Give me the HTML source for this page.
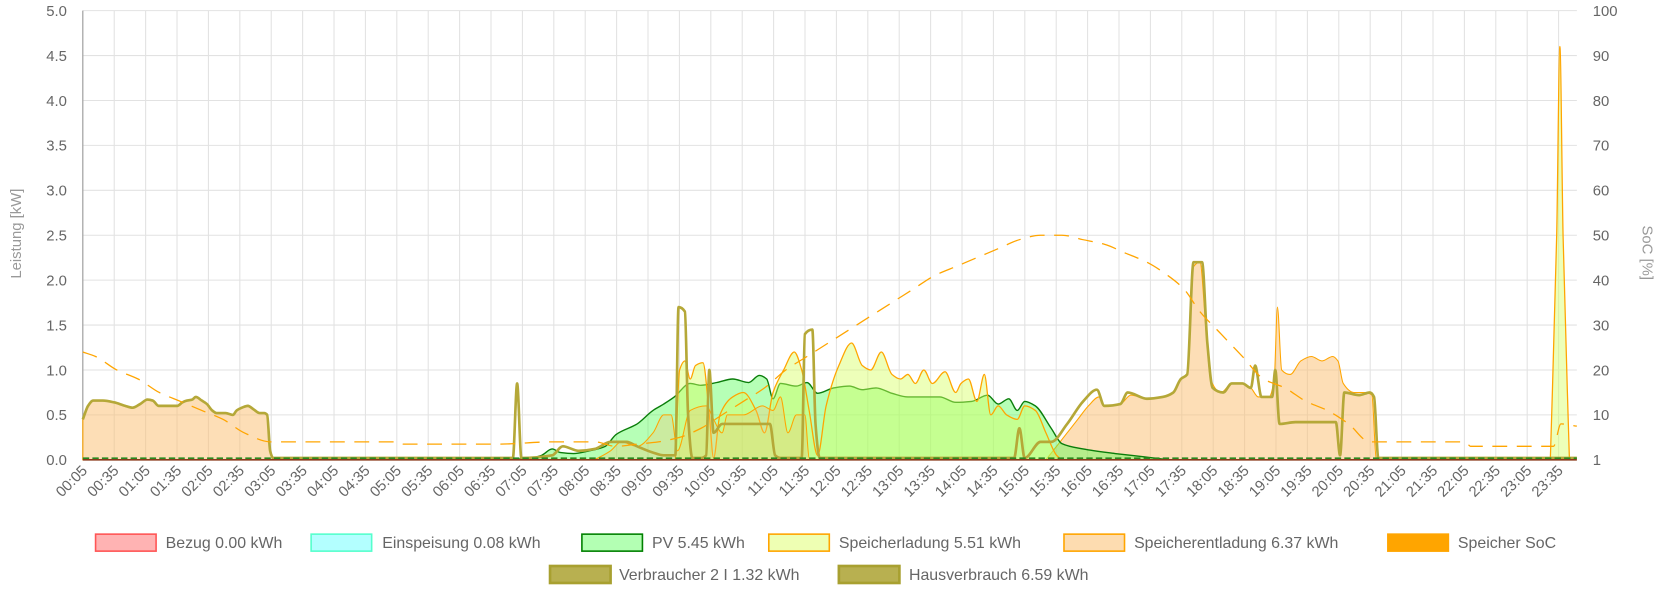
<!DOCTYPE html>
<html><head><meta charset="utf-8"><style>
html,body{margin:0;padding:0;background:#fff;width:1665px;height:600px;overflow:hidden}
svg{display:block;font-family:"Liberation Sans",sans-serif}
</style></head><body>
<svg id="c" width="1665" height="600" viewBox="0 0 1568 565" xmlns="http://www.w3.org/2000/svg">
<g id="grid"></g>
<g id="series"></g>
<g id="labels" fill="#666" font-size="14"></g>
<text transform="translate(20,220) rotate(-90)" text-anchor="middle" fill="#999" font-size="14">Leistung [kW]</text>
<text transform="translate(1547,238) rotate(90)" text-anchor="middle" fill="#999" font-size="14">SoC [%]</text>
<g font-size="15" fill="#666">
<rect x="90" y="503" width="57" height="16" fill="#ffb3b3" stroke="#ff5555" stroke-width="1.5"/><text x="156" y="516">Bezug 0.00 kWh</text>
<rect x="293" y="503" width="57" height="16" fill="#b3ffff" stroke="#55ffcc" stroke-width="1.5"/><text x="360" y="516">Einspeisung 0.08 kWh</text>
<rect x="548" y="503" width="57" height="16" fill="#b3ffb3" stroke="#008000" stroke-width="1.5"/><text x="614" y="516">PV 5.45 kWh</text>
<rect x="724" y="503" width="57" height="16" fill="#eeffb3" stroke="#ffa500" stroke-width="1.5"/><text x="790" y="516">Speicherladung 5.51 kWh</text>
<rect x="1002" y="503" width="57" height="16" fill="#fddcb0" stroke="#ffa500" stroke-width="1.5"/><text x="1068" y="516">Speicherentladung 6.37 kWh</text>
<rect x="1307" y="503" width="57" height="16" fill="#ffa500" stroke="#ffa500" stroke-width="1.5"/><text x="1373" y="516">Speicher SoC</text>
<rect x="518" y="533" width="57" height="16" fill="#b8b050" stroke="#a8a030" stroke-width="2.5"/><text x="583" y="546">Verbraucher 2 I 1.32 kWh</text>
<rect x="790" y="533" width="57" height="16" fill="#b8b050" stroke="#a8a030" stroke-width="2.5"/><text x="856" y="546">Hausverbrauch 6.59 kWh</text>
</g>
</svg>
<script>
var L=78,R=1485,T=10,B=433,NS="http://www.w3.org/2000/svg";
function el(p,t,a,txt){var e=document.createElementNS(NS,t);for(var k in a)e.setAttribute(k,a[k]);if(txt!==undefined)e.textContent=txt;document.getElementById(p).appendChild(e);return e;}
for(var i=0;i<=10;i++){var yy=B-i*42.3;el("grid","line",{x1:L,x2:R,y1:yy,y2:yy,stroke:"#e2e2e2"});
el("labels","text",{x:63,y:yy+5,"text-anchor":"end"},(i*0.5).toFixed(1));
el("labels","text",{x:1500,y:yy+5},i==0?"1":String(i*10));}
for(var j=0;j<48;j++){var x=L+j*29.57;el("grid","line",{x1:x,x2:x,y1:T,y2:B,stroke:"#e2e2e2"});
var m=5+j*30,h=Math.floor(m/60),mm=m%60,s=(h<10?"0":"")+h+":"+(mm<10?"0":"")+mm;
el("labels","text",{x:0,y:0,"text-anchor":"end",transform:"translate("+(x+5)+","+(B+11)+") rotate(-45)"},s);}
el("grid","line",{x1:L,x2:L,y1:T,y2:B,stroke:"#999"});
function path(pts,area,scale){var s=scale||84.6;var P=pts.map(function(p){return [p[0],B-p[1]*s];});
var n=P.length,dx=[],sl=[],m=[];
for(var i=0;i<n-1;i++){dx[i]=P[i+1][0]-P[i][0];sl[i]=(P[i+1][1]-P[i][1])/dx[i];}
m[0]=sl[0];m[n-1]=sl[n-2];
for(var i=1;i<n-1;i++){if(sl[i-1]*sl[i]<=0)m[i]=0;else{var w1=2*dx[i]+dx[i-1],w2=dx[i]+2*dx[i-1];m[i]=(w1+w2)/(w1/sl[i-1]+w2/sl[i]);}}
var d="M"+P[0][0].toFixed(1)+","+P[0][1].toFixed(1);
for(var i=0;i<n-1;i++){var h=dx[i]/3;
d+="C"+(P[i][0]+h).toFixed(1)+","+(P[i][1]+m[i]*h).toFixed(1)+" "+(P[i+1][0]-h).toFixed(1)+","+(P[i+1][1]-m[i+1]*h).toFixed(1)+" "+P[i+1][0].toFixed(1)+","+P[i+1][1].toFixed(1);}
if(area)d+="L"+P[n-1][0]+","+B+"L"+P[0][0]+","+B+"Z";return d;}
function sq(a){return a.map(function(p){return [78+(p[0]-78)*0.7,p[1]];});}
var night=sq([[78,0.45],[85,0.6],[92,0.66],[105,0.66],[120,0.64],[135,0.6],[145,0.58],[155,0.62],[165,0.67],[172,0.66],[180,0.6],[195,0.6],[205,0.6],[212,0.64],[218,0.66],[225,0.67],[230,0.7],[238,0.66],[245,0.62],[252,0.55],[258,0.52],[270,0.52],[280,0.5],[285,0.55],[292,0.58],[300,0.6],[308,0.56],[316,0.52],[322,0.52],[326,0.5],[330,0.1],[334,0.02],[340,0.02]]);
var dis=night;
var dis2=[[560,0],[575,0.1],[585,0.2],[600,0.15],[615,0.3],[625,0.5],[632,0.5],[638,0.1],[650,0.55],[665,0.6],[672,0.45],[680,0.3],[685,0.5],[700,0.5],[718,0.6],[728,0.55],[735,0.7],[742,0.3],[750,0.5],[758,0.5],[762,0.02],[770,0]];
var dis3=[[985,0],[995,0.15],[1005,0.3],[1015,0.45],[1025,0.6],[1035,0.7],[1040,0.6],[1055,0.62],[1065,0.72],[1080,0.68],[1095,0.7],[1105,0.75],[1112,0.9],[1118,0.95],[1124,2.15],[1130,2.2],[1136,1.4],[1140,0.9],[1150,0.75],[1160,0.85],[1170,0.85],[1178,0.8],[1185,0.7],[1195,0.7],[1200,0.9],[1203,1.7],[1207,1.0],[1215,0.95],[1225,1.1],[1235,1.15],[1245,1.1],[1255,1.15],[1260,1.1],[1265,0.85],[1275,0.75],[1285,0.75],[1292,0.72],[1296,0.02],[1300,0]];
var pv=[[480,0],[500,0.02],[510,0.05],[520,0.12],[528,0.08],[540,0.07],[555,0.1],[570,0.15],[580,0.28],[600,0.4],[615,0.55],[625,0.62],[635,0.7],[650,0.85],[660,0.83],[675,0.86],[690,0.9],[705,0.86],[715,0.94],[722,0.9],[728,0.68],[735,0.85],[750,0.82],[760,0.86],[770,0.74],[785,0.8],[800,0.82],[812,0.78],[825,0.8],[840,0.74],[855,0.7],[870,0.7],[885,0.7],[900,0.64],[915,0.65],[930,0.72],[940,0.62],[950,0.68],[958,0.55],[965,0.65],[975,0.6],[990,0.35],[1000,0.18],[1020,0.12],[1050,0.07],[1080,0.03],[1100,0]];
var lad=[[636,0],[640,1.0],[645,1.1],[650,0.9],[655,1.05],[662,1.08],[668,0.5],[672,0.02],[678,0.5],[690,0.7],[700,0.75],[712,0.55],[720,0.3],[728,0.75],[738,1.0],[748,1.2],[755,1.0],[762,0.55],[770,0.05],[778,0.6],[790,1.05],[802,1.3],[812,1.05],[820,1.0],[830,1.2],[840,0.95],[848,0.9],[855,0.95],[862,0.85],[870,1.0],[878,0.85],[890,0.98],[900,0.75],[905,0.85],[912,0.9],[920,0.65],[927,0.95],[933,0.5],[940,0.6],[948,0.5],[958,0.45],[965,0.6],[975,0.55],[985,0.3],[995,0.05],[1000,0]];
var lad2=[[1460,0],[1466,2.5],[1469,4.6],[1472,2.5],[1478,0]];
var haus=night.concat([[483,0.02],[487,0.85],[491,0.02],[520,0.05],[530,0.15],[545,0.1],[560,0.12],[575,0.2],[590,0.2],[600,0.15],[615,0.08],[625,0.05],[636,0.05],[639,1.7],[645,1.65],[648,0.5],[652,0.02],[660,0.02],[665,0.05],[668,1.0],[672,0.3],[680,0.4],[700,0.4],[715,0.4],[725,0.4],[730,0.05],[735,0.02],[755,0.02],[758,1.4],[765,1.45],[768,0.4],[772,0.02],[955,0.02],[960,0.35],[965,0.02],[980,0.2],[990,0.2],[1005,0.4],[1020,0.65],[1033,0.78],[1040,0.6],[1055,0.62],[1062,0.75],[1080,0.68],[1095,0.7],[1105,0.75],[1112,0.9],[1118,0.95],[1124,2.2],[1132,2.2],[1137,1.3],[1142,0.8],[1152,0.75],[1160,0.85],[1170,0.85],[1178,0.8],[1182,1.05],[1188,0.7],[1198,0.7],[1201,1.0],[1205,0.4],[1220,0.42],[1240,0.42],[1258,0.42],[1262,0.05],[1266,0.75],[1280,0.72],[1290,0.75],[1294,0.7],[1298,0.02],[1485,0.02]]);
var soc=[[78,24],[90,23],[110,20],[130,18],[150,15],[170,13],[190,11],[210,9],[230,6],[255,4],[300,4],[375,4],[380,3.5],[470,3.5],[520,4],[560,4],[580,3],[600,3.5],[620,4],[640,5],[660,7],[680,10],[700,13],[720,16],[740,20],[760,23],[780,26],[800,29],[820,32],[840,35],[860,38],[880,41],[900,43],[920,45],[940,47],[960,49],[980,50],[1000,50],[1020,49],[1040,48],[1060,46],[1080,44],[1100,41],[1115,38],[1130,33],[1150,28],[1170,23],[1190,18],[1210,16],[1230,13],[1250,11],[1270,8],[1290,4],[1300,4],[1380,4],[1385,3],[1463,3],[1470,8],[1485,7.5]];
var S="series";
el(S,"path",{d:path(dis,1),fill:"rgba(252,190,110,0.5)",stroke:"#ffa500","stroke-width":1});
el(S,"path",{d:path(dis3,1),fill:"rgba(252,190,110,0.5)",stroke:"#ffa500","stroke-width":1});
el(S,"path",{d:path(pv,1),fill:"rgba(80,255,80,0.42)",stroke:"#0a7d0a","stroke-width":1.3});
el(S,"path",{d:path(lad,1),fill:"rgba(215,255,100,0.45)",stroke:"#ffa500","stroke-width":1.2});
el(S,"path",{d:path(lad2,1),fill:"rgba(215,255,100,0.45)",stroke:"#ffa500","stroke-width":1.2});
el(S,"path",{d:path(dis2,1),fill:"rgba(252,190,110,0.3)",stroke:"#ffa500","stroke-width":1});
el(S,"path",{d:path(haus,0),fill:"none",stroke:"#b5a838","stroke-width":2.5,"stroke-linejoin":"round"});
el(S,"path",{d:path(soc,0,4.23),fill:"none",stroke:"#ffa500","stroke-width":1.2,"stroke-dasharray":"14,9"});
el(S,"line",{x1:L,x2:R,y1:B-1.5,y2:B-1.5,stroke:"#2a8a20","stroke-width":1.5,"stroke-dasharray":"6,3"});
el(S,"line",{x1:L,x2:R,y1:B,y2:B,stroke:"#8b3a1a","stroke-width":1.5});
</script>
</body></html>
